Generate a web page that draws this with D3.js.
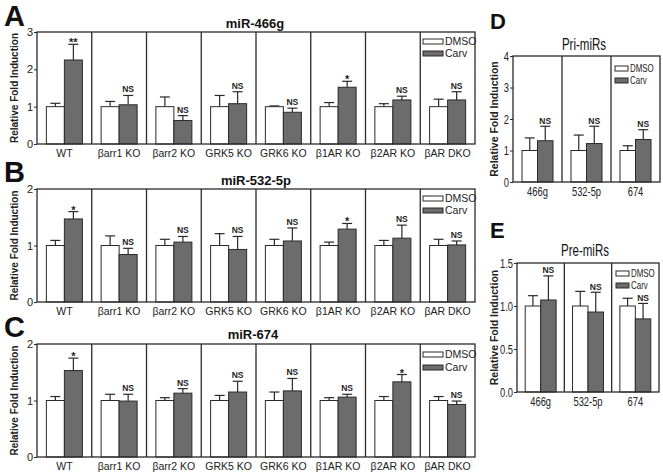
<!DOCTYPE html>
<html><head><meta charset="utf-8">
<script src="https://cdn.jsdelivr.net/npm/d3@7"></script>
<style>body{margin:0;background:#fff}svg{display:block}</style>
</head><body>
<svg id="c" width="663" height="476"></svg>
<script>
// ---------- data ----------
const categoriesABC = ["WT","βarr1 KO","βarr2 KO","GRK5 KO","GRK6 KO","β1AR KO","β2AR KO","βAR DKO"];
const categoriesDE = ["466g","532-5p","674"];
const seriesNames = ["DMSO","Carv"];

// A: miR-466g
const a_dmso = [1,1,1,1,1,1,1,1];
const a_dmsoErr = [0.09,0.14,0.26,0.30,0.02,0.11,0.08,0.20];
const a_carv = [2.25,1.05,0.63,1.08,0.85,1.52,1.18,1.18];
const a_carvErr = [0.42,0.25,0.13,0.32,0.11,0.16,0.10,0.22];
const a_sig = ["**","NS","NS","NS","NS","*","NS","NS"];
const a_ticks = [0,1,2,3];

// B: miR-532-5p
const b_dmso = [1,1,1,1,1,1,1,1];
const b_dmsoErr = [0.09,0.17,0.11,0.21,0.11,0.06,0.09,0.11];
const b_carv = [1.47,0.84,1.06,0.93,1.08,1.29,1.13,1.01];
const b_carvErr = [0.13,0.11,0.10,0.23,0.23,0.10,0.23,0.07];
const b_sig = ["*","NS","NS","NS","NS","*","NS","NS"];
const b_ticks = [0,1,2];

// C: miR-674
const c_dmso = [1,1,1,1,1,1,1,1];
const c_dmsoErr = [0.07,0.11,0.05,0.09,0.15,0.05,0.07,0.07];
const c_carv = [1.53,0.99,1.13,1.15,1.17,1.06,1.33,0.93];
const c_carvErr = [0.22,0.12,0.08,0.19,0.22,0.05,0.13,0.06];
const c_sig = ["*","NS","NS","NS","NS","NS","*","NS"];
const c_ticks = [0,1,2];

// D: Pri-miRs
const d_dmso = [1,1,1];
const d_dmsoErr = [0.40,0.49,0.15];
const d_carv = [1.31,1.22,1.35];
const d_carvErr = [0.46,0.55,0.31];
const d_sig = ["NS","NS","NS"];
const d_ticks = [0,1,2,3,4];

// E: Pre-miRs
const e_dmso = [1,1,1];
const e_dmsoErr = [0.12,0.17,0.09];
const e_carv = [1.07,0.93,0.85];
const e_carvErr = [0.28,0.23,0.18];
const e_sig = ["NS","NS","NS"];
const e_ticks = [0,0.5,1.0,1.5];

// ---------- drawing ----------
const svg = d3.select("#c");
const LINE = "#2a2a2a", GRAY = "#6c6c6c";
const WIDE = "'Liberation Sans', Arial, Helvetica, sans-serif";

function condense(sel, k) {
  sel.each(function() {
    const w = this.getComputedTextLength();
    if (w > 0) {
      this.setAttribute("textLength", (w * k).toFixed(2));
      this.setAttribute("lengthAdjust", "spacingAndGlyphs");
    }
  });
}

function panel(o) {
  const g = svg.append("g");
  const x = d3.scaleBand().domain(o.cats).range([o.x0, o.x1]).paddingInner(0).paddingOuter(0);
  const xs = d3.scaleBand().domain(seriesNames).range([0, x.bandwidth()]).paddingInner(0).paddingOuter(o.po);
  const y = d3.scaleLinear().domain([0, o.ymax]).range([o.y1, o.y0]);

  const rows = o.cats.map((c, i) => ({c, i,
    vals: [{s:"DMSO", v:o.dmso[i], e:o.dmsoErr[i]}, {s:"Carv", v:o.carv[i], e:o.carvErr[i]}],
    sig: o.sig[i]}));

  // bars
  const grp = g.selectAll("g.grp").data(rows).join("g").attr("transform", d => `translate(${x(d.c)},0)`);
  grp.selectAll("line.err").data(d => d.vals).join("line")
    .attr("x1", d => xs(d.s) + xs.bandwidth()/2).attr("x2", d => xs(d.s) + xs.bandwidth()/2)
    .attr("y1", d => y(d.v)).attr("y2", d => y(d.v + d.e)).attr("stroke", LINE).attr("stroke-width", 1.2);
  grp.selectAll("line.cap").data(d => d.vals).join("line")
    .attr("x1", d => xs(d.s) + xs.bandwidth()/2 - o.cap).attr("x2", d => xs(d.s) + xs.bandwidth()/2 + o.cap)
    .attr("y1", d => y(d.v + d.e)).attr("y2", d => y(d.v + d.e)).attr("stroke", LINE).attr("stroke-width", 1.2);
  grp.selectAll("rect").data(d => d.vals).join("rect")
    .attr("x", d => xs(d.s)).attr("width", xs.bandwidth())
    .attr("y", d => y(d.v)).attr("height", d => y(0) - y(d.v))
    .attr("fill", d => d.s === "DMSO" ? "#fff" : GRAY).attr("stroke", LINE).attr("stroke-width", 1);
  // significance
  grp.append("text")
    .attr("x", xs("Carv") + xs.bandwidth()/2)
    .attr("y", d => y(d.vals[1].v + d.vals[1].e) - (d.sig === "NS" ? o.nsGap : -o.starOff))
    .attr("text-anchor", "middle")
    .attr("font-family", WIDE).attr("font-weight", "bold")
    .attr("font-size", d => d.sig === "NS" ? o.nsSize : 11)
    .attr("fill", "#222")
    .text(d => d.sig);

  // dividers
  g.selectAll("line.div").data(o.cats.slice(1)).join("line")
    .attr("x1", d => x(d)).attr("x2", d => x(d)).attr("y1", o.y0).attr("y2", o.y1)
    .attr("stroke", LINE).attr("stroke-width", 1.3);
  // frame
  g.append("rect").attr("x", o.x0).attr("y", o.y0).attr("width", o.x1 - o.x0).attr("height", o.y1 - o.y0)
    .attr("fill", "none").attr("stroke", LINE).attr("stroke-width", 1.3);

  // y axis
  const ya = d3.axisLeft(y).tickValues(o.ticks).tickSize(3).tickPadding(1).tickFormat(o.fmt);
  const ag = g.append("g").attr("transform", `translate(${o.x0},0)`).call(ya);
  ag.select(".domain").remove();
  ag.selectAll("line").attr("stroke", LINE);
  const yt = ag.selectAll("text").attr("font-family", WIDE).attr("font-size", o.tickSize).attr("fill", "#222");

  // x axis labels
  const xa = d3.axisBottom(x).tickSize(0).tickPadding(o.xPad);
  const xg = g.append("g").attr("transform", `translate(0,${o.y1})`).call(xa);
  xg.select(".domain").remove();
  const xt = xg.selectAll("text").attr("font-family", WIDE).attr("font-size", o.xSize).attr("fill", "#222");

  // y title
  g.append("text").attr("transform", `translate(${o.ytX},${(o.y0 + o.y1)/2}) rotate(-90)`)
    .attr("text-anchor", "middle").attr("font-family", WIDE).attr("font-weight", "bold")
    .attr("font-size", o.ytSize).attr("fill", "#222").text("Relative Fold Induction");

  // title
  const tt = g.append("text").attr("x", o.titleX).attr("y", o.titleY).attr("text-anchor", "middle")
    .attr("font-family", WIDE).attr("font-weight", o.titleWeight).attr("font-size", o.titleSize)
    .attr("fill", "#111").text(o.title);

  // letter
  g.append("text").attr("x", o.letterX).attr("y", o.letterY).attr("font-family", WIDE)
    .attr("font-weight", "bold").attr("font-size", o.letterSize).attr("fill", "#111").text(o.letter);

  // legend
  const lg = g.append("g");
  seriesNames.forEach((s, i) => {
    lg.append("rect").attr("x", o.legX).attr("y", o.y0 + o.legY[i]).attr("width", o.legW).attr("height", 5)
      .attr("fill", s === "DMSO" ? "#fff" : GRAY).attr("stroke", LINE).attr("stroke-width", 1);
    lg.append("text").attr("x", o.legX + o.legW + 2).attr("y", o.y0 + o.legY[i] + 5.5)
      .attr("font-family", WIDE).attr("font-size", o.legSize).attr("fill", "#222").text(s);
  });

  if (o.narrow) {
    condense(yt, o.narrow); condense(xt, o.narrow); condense(tt, o.narrow);
    condense(lg.selectAll("text"), o.narrow);
  }
}

const common = {cats: categoriesABC, x0: 37, x1: 475, po: 0.52, cap: 5, tickSize: 11,
  fmt: d3.format("d"), xSize: 10.5, xPad: 6, ytX: 18, ytSize: 10, titleWeight: "bold",
  titleSize: 13, letterX: 4, letterSize: 29, legX: 423, legW: 20, legY: [7, 19], legSize: 10.5,
  nsGap: 3, nsSize: 8.5, starOff: 2};

panel(Object.assign({}, common, {y0: 32, y1: 144, ymax: 3, ticks: a_ticks, dmso: a_dmso, dmsoErr: a_dmsoErr,
  carv: a_carv, carvErr: a_carvErr, sig: a_sig, title: "miR-466g", titleX: 255, titleY: 28, letter: "A", letterY: 26}));
panel(Object.assign({}, common, {y0: 189, y1: 302, ymax: 2, ticks: b_ticks, dmso: b_dmso, dmsoErr: b_dmsoErr,
  carv: b_carv, carvErr: b_carvErr, sig: b_sig, title: "miR-532-5p", titleX: 256, titleY: 185, letter: "B", letterY: 182}));
panel(Object.assign({}, common, {y0: 344, y1: 457, ymax: 2, ticks: c_ticks, dmso: c_dmso, dmsoErr: c_dmsoErr,
  carv: c_carv, carvErr: c_carvErr, sig: c_sig, title: "miR-674", titleX: 253, titleY: 339, letter: "C", letterY: 337,
  legY: [8, 21]}));

const commonDE = {cats: categoriesDE, cap: 5, narrow: 0.72, tickSize: 13, xSize: 13, xPad: 5, ytX: 498,
  ytSize: 10.5, titleWeight: "normal", titleSize: 16, letterX: 490, letterSize: 22,
  legW: 13, legSize: 11, nsGap: 2.5, nsSize: 8.5, starOff: 2};

panel(Object.assign({}, commonDE, {x0: 513, x1: 660, po: 0.58, y0: 56, y1: 182, ymax: 4, ticks: d_ticks,
  fmt: d3.format("d"), dmso: d_dmso, dmsoErr: d_dmsoErr, carv: d_carv, carvErr: d_carvErr, sig: d_sig,
  title: "Pri-miRs", titleX: 584, titleY: 50, letter: "D", letterY: 29, legX: 615, legY: [10, 22]}));
panel(Object.assign({}, commonDE, {x0: 517, x1: 659, po: 0.53, y0: 263, y1: 392, ymax: 1.5, ticks: e_ticks,
  fmt: d3.format(".1f"), dmso: e_dmso, dmsoErr: e_dmsoErr, carv: e_carv, carvErr: e_carvErr, sig: e_sig,
  title: "Pre-miRs", titleX: 585, titleY: 256, letter: "E", letterY: 238, legX: 616, legY: [8, 20]}));
</script>
</body></html>
